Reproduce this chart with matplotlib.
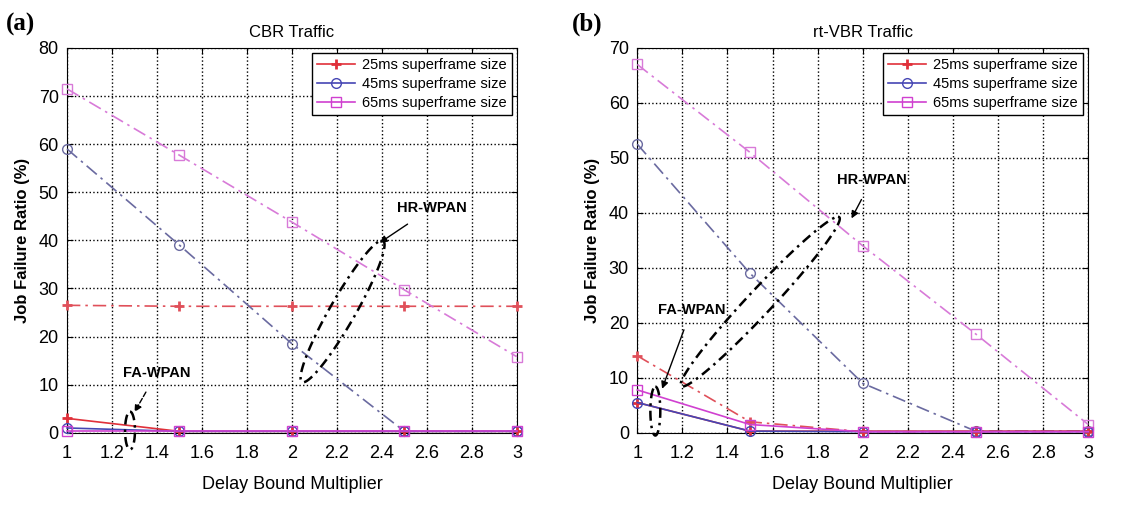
import numpy as np
import matplotlib.pyplot as plt

# data
x = [1, 1.5, 2, 2.5, 3]
labels = ['25ms superframe size', '45ms superframe size', '65ms superframe size']

# (a) CBR traffic
cbr_fa = [[3.0, 0.3, 0.3, 0.3, 0.3],
          [1.0, 0.3, 0.3, 0.3, 0.3],
          [0.3, 0.3, 0.3, 0.3, 0.3]]
cbr_hr = [[26.5, 26.3, 26.3, 26.3, 26.3],
          [59.0, 39.0, 18.5, 0.3, 0.3],
          [71.5, 57.7, 43.8, 29.7, 15.8]]

# (b) rt-VBR traffic
vbr_fa = [[5.5, 0.3, 0.3, 0.3, 0.3],
          [5.5, 0.3, 0.2, 0.2, 0.2],
          [7.8, 1.5, 0.2, 0.2, 0.2]]
vbr_hr = [[14.0, 2.0, 0.2, 0.2, 0.2],
          [52.5, 29.0, 9.0, 0.3, 0.3],
          [67.0, 51.0, 34.0, 18.0, 1.5]]

colors = ['#e0303a', '#4646b4', '#d040d0']
hr_colors = ['#e0505a', '#6a6aa0', '#d87ad8']
markers = ['+', 'o', 's']

plt.rcParams['font.family'] = ['Liberation Sans', 'DejaVu Sans']


def ellipse(ax, p1, p2, v, n=100):
    # affine image of a circle: ends at p1, p2, half-width vector v (data units)
    t = np.linspace(0, 2*np.pi, n)
    c = (np.array(p1) + np.array(p2)) / 2
    u = (np.array(p2) - np.array(p1)) / 2
    pts = c[:, None] + u[:, None]*np.cos(t) + np.array(v)[:, None]*np.sin(t)
    ax.plot(pts[0], pts[1], color='k', ls=(0, (4, 2, 1, 2)), lw=1.8, clip_on=False, zorder=5)


def panel(ax, fa, hr, ymax, title):
    for i in range(3):
        ax.plot(x, fa[i], color=colors[i], marker=markers[i], ms=7, mfc='none',
                mew=1.0 if i else 2.0, lw=1.2, label=labels[i], clip_on=False, zorder=4)
        ax.plot(x, hr[i], color=hr_colors[i], marker=markers[i], ms=7, mfc='none',
                mew=1.0 if i else 2.0, lw=1.2, ls=(0, (8, 3, 1.5, 3)), clip_on=False, zorder=3)
    ax.set_xlim(1, 3)
    ax.set_ylim(0, ymax)
    ax.set_xticks(np.arange(1, 3.01, 0.2))
    ax.set_xticklabels(['1', '1.2', '1.4', '1.6', '1.8', '2', '2.2', '2.4', '2.6', '2.8', '3'])
    ax.set_yticks(np.arange(0, ymax + 1, 10))
    ax.tick_params(direction='in', labelsize=13, length=4, top=True, right=True)
    ax.tick_params(axis='x', pad=9)
    ax.tick_params(axis='y', pad=6)
    ax.grid(True, color='k', ls=':', lw=1.0)
    ax.set_title(title, fontsize=12, pad=8)
    ax.set_xlabel('Delay Bound Multiplier', fontsize=13, labelpad=10)
    ax.set_ylabel('Job Failure Ratio (%)', fontsize=12, fontweight='bold', labelpad=6)
    ax.legend(loc='upper right', fontsize=10.5, fancybox=False, edgecolor='k',
              borderaxespad=0.35, handlelength=2.6, handletextpad=0.5,
              labelspacing=0.35, framealpha=1, borderpad=0.35)


fig = plt.figure(figsize=(11.36, 5.05), dpi=100)
ax1 = fig.add_axes([0.059, 0.143, 0.396, 0.762])
ax2 = fig.add_axes([0.561, 0.143, 0.397, 0.762])

panel(ax1, cbr_fa, cbr_hr, 80, 'CBR Traffic')
panel(ax2, vbr_fa, vbr_hr, 70, 'rt-VBR Traffic')

# annotations (a)
ellipse(ax1, (2.05, 10.5), (2.40, 40.0), (0.065, 0))
ellipse(ax1, (1.28, -3.5), (1.28, 4.4), (0.022, 0))
ax1.annotate('HR-WPAN', xy=(2.39, 39.5), xytext=(2.62, 46.7), ha='center', va='center',
             fontsize=10.5, fontweight='bold',
             arrowprops=dict(arrowstyle='-|>', color='k', lw=1, shrinkA=8, shrinkB=0))
ax1.annotate('FA-WPAN', xy=(1.30, 4.3), xytext=(1.40, 12.5), ha='center', va='center',
             fontsize=10.5, fontweight='bold',
             arrowprops=dict(arrowstyle='-|>', color='k', lw=1, ls='--', shrinkA=8, shrinkB=0))

# annotations (b)
ellipse(ax2, (1.20, 8.4), (1.89, 39.3), (0.075, 0))
ellipse(ax2, (1.08, -0.5), (1.08, 8.4), (0.022, 0))
ax2.annotate('HR-WPAN', xy=(1.95, 39.0), xytext=(2.04, 46.0), ha='center', va='center',
             fontsize=10.5, fontweight='bold',
             arrowprops=dict(arrowstyle='-|>', color='k', lw=1, shrinkA=8, shrinkB=0))
ax2.annotate('FA-WPAN', xy=(1.11, 8.0), xytext=(1.24, 22.4), ha='center', va='center',
             fontsize=10.5, fontweight='bold',
             arrowprops=dict(arrowstyle='-|>', color='k', lw=1, shrinkA=8, shrinkB=0))

fig.text(0.005, 0.975, '(a)', fontsize=18, fontweight='bold', family='Liberation Serif', va='top')
fig.text(0.503, 0.975, '(b)', fontsize=18, fontweight='bold', family='Liberation Serif', va='top')

fig.savefig('out.png', dpi=100)
